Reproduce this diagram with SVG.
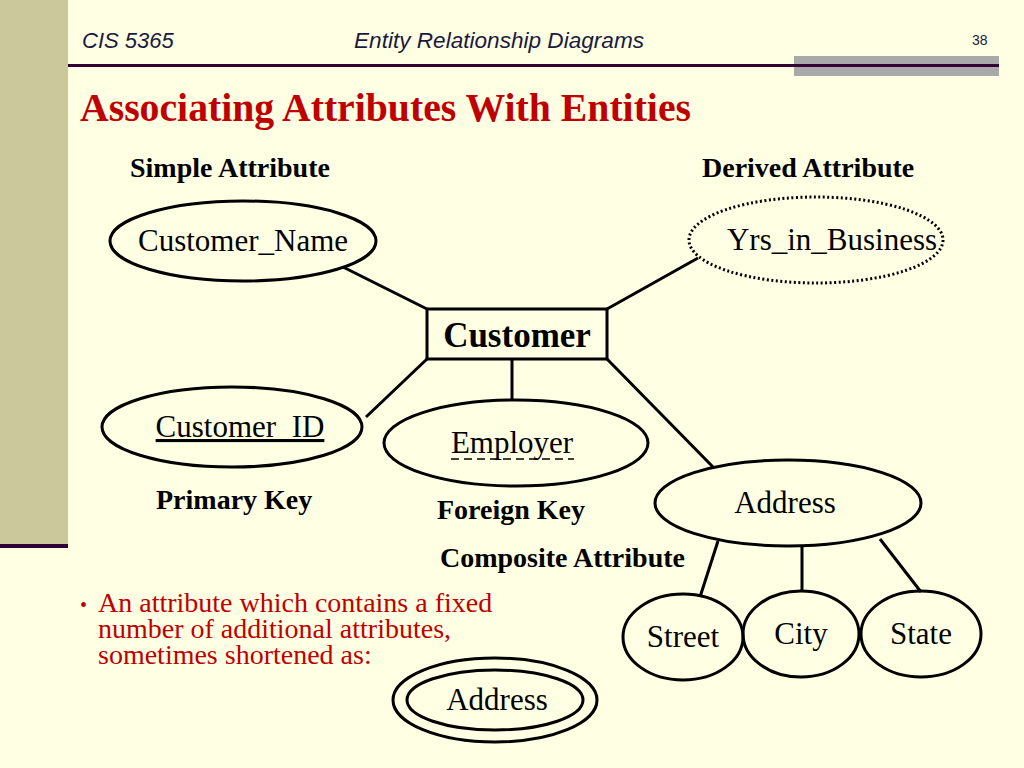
<svg xmlns="http://www.w3.org/2000/svg" width="1024" height="768" viewBox="0 0 1024 768">
<style>
.bg{fill:#FFFFE3}
.sh{fill:none;stroke:#000;stroke-width:3}
.ln{stroke:#000;stroke-width:3;fill:none}
.s{font-family:'Times New Roman','Liberation Serif',Tinos,serif}
.t{font-size:31px;fill:#000}
.b{font-size:28px;font-weight:bold;fill:#000}
.r{font-size:28px;fill:#C00000}
.h{font-family:Arial,'Liberation Sans',Arimo,sans-serif;font-style:italic;font-size:22px;fill:#1a1a40}
</style>
<rect class="bg" x="0" y="0" width="1024" height="768"/>
<rect x="0" y="0" width="68" height="544" fill="#CBC89B"/>
<rect x="0" y="544" width="68" height="4" fill="#330033"/>
<rect x="794" y="56" width="205" height="20" fill="#A9A9A9"/>
<rect x="68" y="64" width="931" height="3" fill="#330033"/>
<text class="h" x="82" y="48">CIS 5365</text>
<text class="h" x="354" y="48" textLength="290" lengthAdjust="spacingAndGlyphs">Entity Relationship Diagrams</text>
<text class="h" x="972" y="45" style="font-style:normal;font-size:14px">38</text>
<text class="s" x="80" y="121" font-weight="bold" font-size="40" fill="#C00000" textLength="611" lengthAdjust="spacingAndGlyphs">Associating Attributes With Entities</text>
<text class="s b" x="130" y="177">Simple Attribute</text>
<text class="s b" x="702" y="177">Derived Attribute</text>
<text class="s b" x="156" y="509">Primary Key</text>
<text class="s b" x="437" y="519">Foreign Key</text>
<text class="s b" x="440" y="567">Composite Attribute</text>
<g id="connectors">
<line class="ln" x1="343" y1="267" x2="427" y2="309"/>
<line class="ln" x1="607" y1="309" x2="698" y2="258"/>
<line class="ln" x1="427" y1="359" x2="366" y2="417"/>
<line class="ln" x1="512" y1="359" x2="512" y2="400"/>
<line class="ln" x1="607" y1="359" x2="714" y2="468"/>
<line class="ln" x1="718" y1="541" x2="700" y2="597"/>
<line class="ln" x1="802" y1="546" x2="802" y2="592"/>
<line class="ln" x1="880" y1="539" x2="921" y2="592"/>
</g>
<g id="customer">
<rect class="sh" x="427" y="309" width="180" height="50"/>
<text class="s" x="517" y="347" text-anchor="middle" font-weight="bold" font-size="35">Customer</text>
</g>
<g id="customer_name">
<ellipse class="sh" cx="243" cy="241" rx="133" ry="40"/>
<text class="s t" x="243" y="251" text-anchor="middle">Customer_Name</text>
</g>
<g id="yrs_in_business">
<ellipse cx="816" cy="240" rx="127" ry="43" fill="none" stroke="#000" stroke-width="3" stroke-dasharray="2 2.5"/>
<text class="s t" x="832" y="250" text-anchor="middle">Yrs_in_Business</text>
</g>
<g id="customer_id">
<ellipse class="sh" cx="232" cy="427" rx="130" ry="40"/>
<text class="s t" x="240" y="437" text-anchor="middle" text-decoration="underline">Customer_ID</text>
</g>
<g id="employer">
<ellipse class="sh" cx="516" cy="443" rx="132" ry="43"/>
<text class="s t" x="512" y="453" text-anchor="middle">Employer</text>
<line x1="451" y1="459" x2="574" y2="459" stroke="#000" stroke-width="1.5" stroke-dasharray="8 5"/>
</g>
<g id="address">
<ellipse class="sh" cx="788" cy="503" rx="133" ry="43"/>
<text class="s t" x="785" y="513" text-anchor="middle">Address</text>
</g>
<g id="street">
<ellipse class="sh" cx="683" cy="637" rx="60" ry="43"/>
<text class="s t" x="683" y="647" text-anchor="middle">Street</text>
</g>
<g id="city">
<ellipse class="sh" cx="801" cy="634" rx="58" ry="43"/>
<text class="s t" x="801" y="644" text-anchor="middle">City</text>
</g>
<g id="state">
<ellipse class="sh" cx="921" cy="634" rx="60" ry="43"/>
<text class="s t" x="921" y="644" text-anchor="middle">State</text>
</g>
<text class="s" x="80" y="612" font-size="20" fill="#C00000">•</text>
<text class="s r" x="98" y="612">An attribute which contains a fixed</text>
<text class="s r" x="98" y="638">number of additional attributes,</text>
<text class="s r" x="98" y="664">sometimes shortened as:</text>
<g id="address_multi">
<ellipse class="sh" cx="495" cy="700" rx="102" ry="42"/>
<ellipse class="sh" cx="495" cy="700" rx="88" ry="30"/>
<text class="s t" x="497" y="710" text-anchor="middle">Address</text>
</g>
</svg>
